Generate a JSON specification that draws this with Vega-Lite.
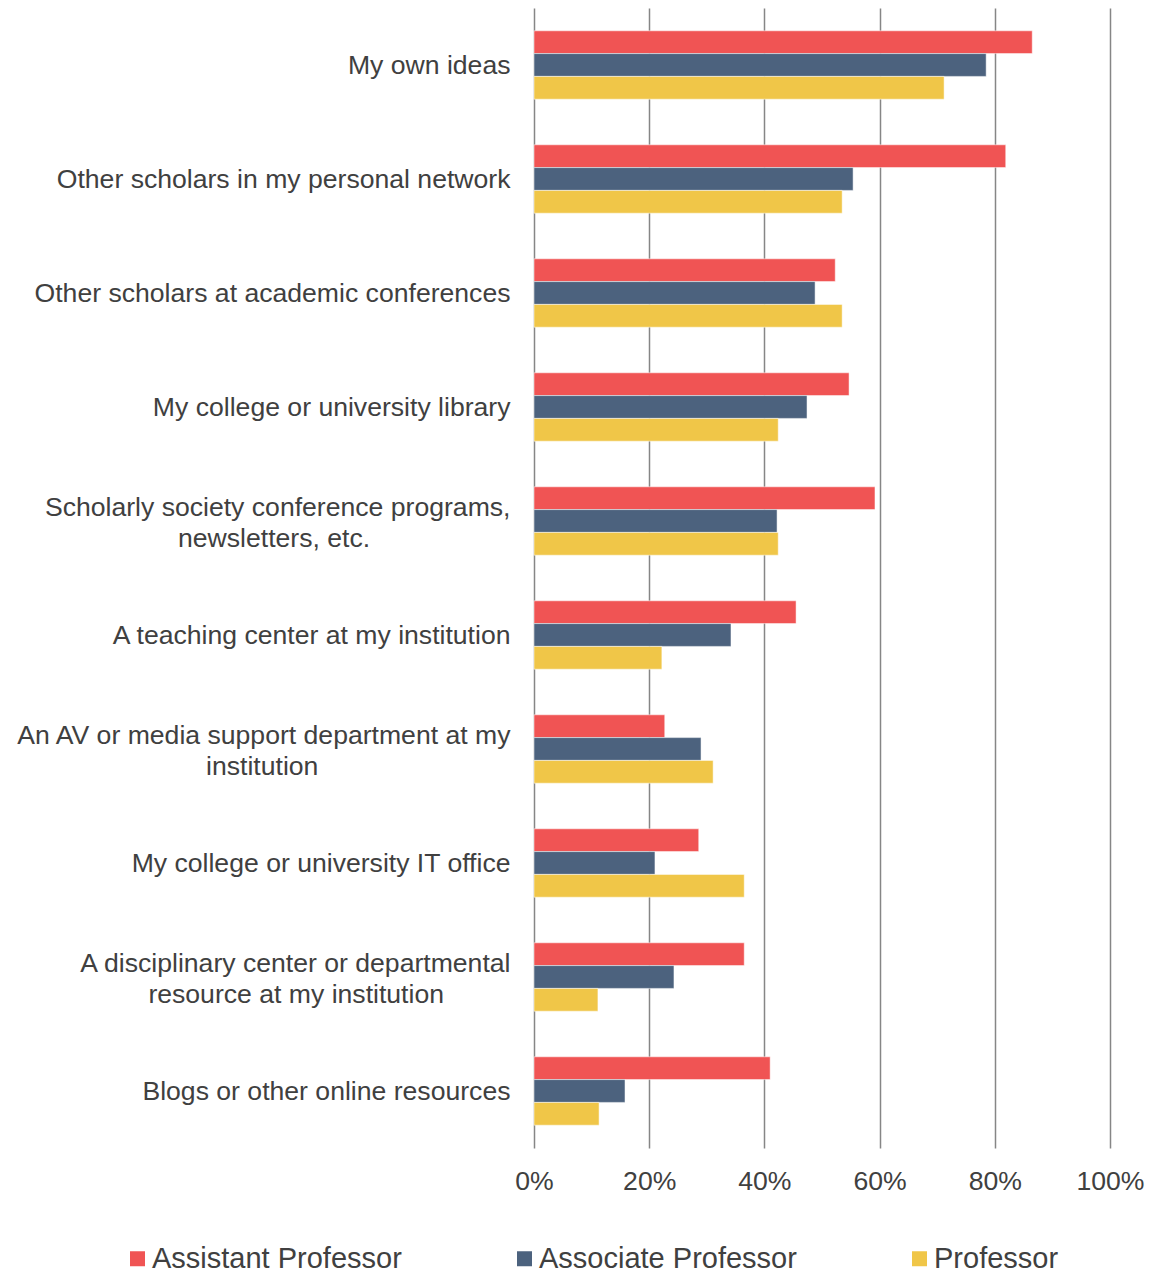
{
  "$schema": "https://vega.github.io/schema/vega-lite/v6.json",
  "width": 576,
  "height": 1140,
  "padding": {"left": 5, "top": 8, "right": 5, "bottom": 0},
  "background": "white",
  "config": {"view": {"stroke": null}, "font": "Liberation Sans"},
  "data": {"values": [
    {"cat": "My own ideas", "series": "Assistant Professor", "v": 0.865},
    {"cat": "My own ideas", "series": "Associate Professor", "v": 0.785},
    {"cat": "My own ideas", "series": "Professor", "v": 0.712},
    {"cat": "Other scholars in my personal network", "series": "Assistant Professor", "v": 0.819},
    {"cat": "Other scholars in my personal network", "series": "Associate Professor", "v": 0.554},
    {"cat": "Other scholars in my personal network", "series": "Professor", "v": 0.535},
    {"cat": "Other scholars at academic conferences", "series": "Assistant Professor", "v": 0.523},
    {"cat": "Other scholars at academic conferences", "series": "Associate Professor", "v": 0.488},
    {"cat": "Other scholars at academic conferences", "series": "Professor", "v": 0.535},
    {"cat": "My college or university library", "series": "Assistant Professor", "v": 0.547},
    {"cat": "My college or university library", "series": "Associate Professor", "v": 0.474},
    {"cat": "My college or university library", "series": "Professor", "v": 0.424},
    {"cat": "Scholarly society conference programs,|newsletters, etc.\u00a0\u00a0\u00a0\u00a0\u00a0\u00a0\u00a0\u00a0\u00a0\u00a0\u00a0\u00a0\u00a0\u00a0\u00a0\u00a0\u00a0\u00a0\u00a0\u200b", "series": "Assistant Professor", "v": 0.592},
    {"cat": "Scholarly society conference programs,|newsletters, etc.\u00a0\u00a0\u00a0\u00a0\u00a0\u00a0\u00a0\u00a0\u00a0\u00a0\u00a0\u00a0\u00a0\u00a0\u00a0\u00a0\u00a0\u00a0\u00a0\u200b", "series": "Associate Professor", "v": 0.422},
    {"cat": "Scholarly society conference programs,|newsletters, etc.\u00a0\u00a0\u00a0\u00a0\u00a0\u00a0\u00a0\u00a0\u00a0\u00a0\u00a0\u00a0\u00a0\u00a0\u00a0\u00a0\u00a0\u00a0\u00a0\u200b", "series": "Professor", "v": 0.424},
    {"cat": "A teaching center at my institution", "series": "Assistant Professor", "v": 0.455},
    {"cat": "A teaching center at my institution", "series": "Associate Professor", "v": 0.342},
    {"cat": "A teaching center at my institution", "series": "Professor", "v": 0.222},
    {"cat": "An AV or media support department at my|institution\u00a0\u00a0\u00a0\u00a0\u00a0\u00a0\u00a0\u00a0\u00a0\u00a0\u00a0\u00a0\u00a0\u00a0\u00a0\u00a0\u00a0\u00a0\u00a0\u00a0\u00a0\u00a0\u00a0\u00a0\u00a0\u00a0\u200b", "series": "Assistant Professor", "v": 0.227},
    {"cat": "An AV or media support department at my|institution\u00a0\u00a0\u00a0\u00a0\u00a0\u00a0\u00a0\u00a0\u00a0\u00a0\u00a0\u00a0\u00a0\u00a0\u00a0\u00a0\u00a0\u00a0\u00a0\u00a0\u00a0\u00a0\u00a0\u00a0\u00a0\u00a0\u200b", "series": "Associate Professor", "v": 0.290},
    {"cat": "An AV or media support department at my|institution\u00a0\u00a0\u00a0\u00a0\u00a0\u00a0\u00a0\u00a0\u00a0\u00a0\u00a0\u00a0\u00a0\u00a0\u00a0\u00a0\u00a0\u00a0\u00a0\u00a0\u00a0\u00a0\u00a0\u00a0\u00a0\u00a0\u200b", "series": "Professor", "v": 0.311},
    {"cat": "My college or university IT office", "series": "Assistant Professor", "v": 0.286},
    {"cat": "My college or university IT office", "series": "Associate Professor", "v": 0.210},
    {"cat": "My college or university IT office", "series": "Professor", "v": 0.365},
    {"cat": "A disciplinary center or departmental|resource at my institution\u00a0\u00a0\u00a0\u00a0\u00a0\u00a0\u00a0\u00a0\u00a0\u200b", "series": "Assistant Professor", "v": 0.365},
    {"cat": "A disciplinary center or departmental|resource at my institution\u00a0\u00a0\u00a0\u00a0\u00a0\u00a0\u00a0\u00a0\u00a0\u200b", "series": "Associate Professor", "v": 0.243},
    {"cat": "A disciplinary center or departmental|resource at my institution\u00a0\u00a0\u00a0\u00a0\u00a0\u00a0\u00a0\u00a0\u00a0\u200b", "series": "Professor", "v": 0.111},
    {"cat": "Blogs or other online resources", "series": "Assistant Professor", "v": 0.410},
    {"cat": "Blogs or other online resources", "series": "Associate Professor", "v": 0.158},
    {"cat": "Blogs or other online resources", "series": "Professor", "v": 0.113}
  ]},
  "mark": {"type": "bar", "stroke": "white", "strokeWidth": 0.5},
  "encoding": {
    "y": {
      "field": "cat", "type": "nominal", "sort": null, "title": null,
      "scale": {"paddingInner": 0.4, "paddingOuter": 0.2},
      "axis": {
        "labelExpr": "split(datum.label, '|')",
        "labelFontSize": 26.6, "labelColor": "#404040", "labelLineHeight": 31,
        "labelLimit": 600, "labelPadding": 24, "ticks": false, "domain": false, "grid": false,
        "minExtent": 529, "maxExtent": 529,
        "labelOffset": {"condition": {"test": "indexof(datum.value, '|') >= 0", "value": -13.5}, "value": 1}
      }
    },
    "yOffset": {"field": "series", "type": "nominal", "sort": ["Assistant Professor", "Associate Professor", "Professor"], "scale": {"paddingInner": 0, "paddingOuter": 0}},
    "x": {
      "field": "v", "type": "quantitative", "title": null,
      "scale": {"domain": [0, 1], "nice": false},
      "axis": {
        "format": "%", "values": [0, 0.2, 0.4, 0.6, 0.8, 1],
        "labelFontSize": 26.6, "labelColor": "#404040", "labelPadding": 20,
        "ticks": false, "domain": false, "grid": true, "gridColor": "#868686", "gridWidth": 1.5,
        "labelFlush": false
      }
    },
    "color": {
      "field": "series", "type": "nominal", "title": null,
      "sort": ["Assistant Professor", "Associate Professor", "Professor"],
      "scale": {"domain": ["Assistant Professor", "Associate Professor", "Professor"], "range": ["#F05454", "#4C627E", "#F0C648"]},
      "legend": {
        "orient": "none", "direction": "horizontal", "legendX": -411, "legendY": 1236, "padding": 0,
        "symbolType": "square", "symbolSize": 225, "symbolOpacity": 1, "symbolStrokeWidth": 0,
        "labelFontSize": 29, "labelColor": "#404040", "labelOffset": 0,
        "columnPadding": 108, "labelLimit": 400
      }
    }
  }
}
